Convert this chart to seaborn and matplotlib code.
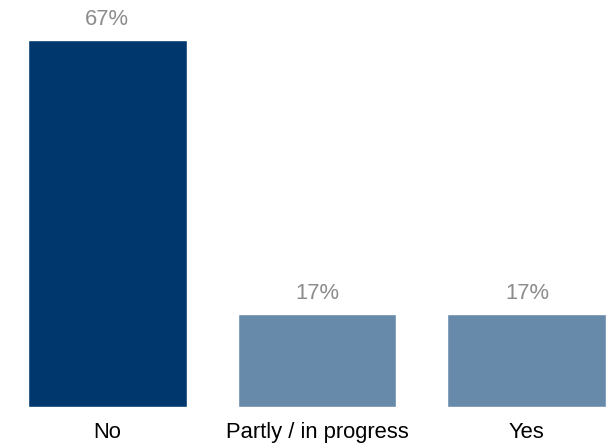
import pandas as pd
import seaborn as sns
import matplotlib.pyplot as plt

# data
categories = ["No", "Partly / in progress", "Yes"]
shares = [67, 17, 17]
colors = ["#00386E", "#6789AA", "#6789AA"]

df = pd.DataFrame({"answer": categories, "share": shares})

sns.set_style("white")
plt.rcParams["font.family"] = ["Liberation Sans", "DejaVu Sans"]

fig = plt.figure(figsize=(6.13, 4.48), dpi=100)
ax = fig.add_axes([0, 41 / 448, 1, 407 / 448])

sns.barplot(
    data=df,
    x="answer",
    y="share",
    hue="answer",
    palette=colors,
    width=0.757,
    saturation=1,
    legend=False,
    ax=ax,
)

for c in ax.containers:
    ax.bar_label(c, fmt="%d%%", padding=7.5, color="#8C8C8C", fontsize=15.8)

ax.set_xlim(-0.51, 2.41)
ax.set_ylim(0, 74.4)
ax.set_xlabel("")
ax.set_ylabel("")
ax.set_yticks([])
ax.tick_params(axis="x", length=0, pad=11, labelsize=15.8, labelcolor="black")
sns.despine(ax=ax, left=True, bottom=True)

fig.savefig("out.png", dpi=100)
